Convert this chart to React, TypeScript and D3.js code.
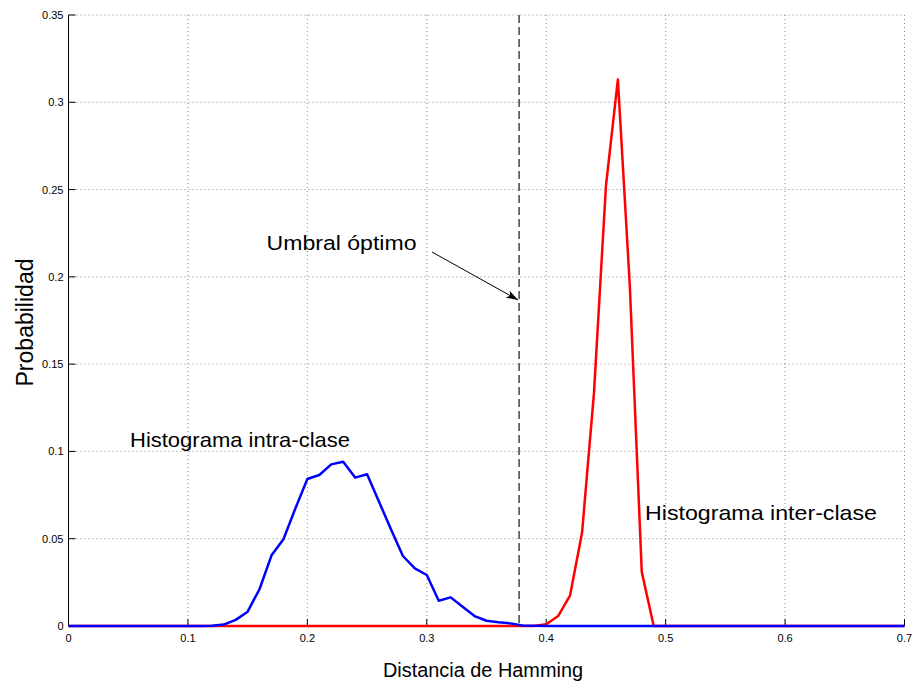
import React from "react";
import * as d3 from "d3";

const binCenters: number[] = d3.range(0, 71).map((i) => +(i * 0.01).toFixed(2));

const intraValues: number[] = [
  0, 0, 0, 0, 0, 0, 0, 0, 0, 0,
  0, 0, 0.0002, 0.0008, 0.0035, 0.0082, 0.0212, 0.0405, 0.0497, 0.0674,
  0.0842, 0.0865, 0.0926, 0.0941, 0.085, 0.0869, 0.0712, 0.0554, 0.0401, 0.033,
  0.0292, 0.0145, 0.0164, 0.011, 0.0057, 0.003, 0.0021, 0.0015, 0.0003, 0.0001,
  0, 0, 0, 0, 0, 0, 0, 0, 0, 0,
  0, 0, 0, 0, 0, 0, 0, 0, 0, 0,
  0, 0, 0, 0, 0, 0, 0, 0, 0, 0, 0,
];

const interValues: number[] = [
  0, 0, 0, 0, 0, 0, 0, 0, 0, 0,
  0, 0, 0, 0, 0, 0, 0, 0, 0, 0,
  0, 0, 0, 0, 0, 0, 0, 0, 0, 0,
  0, 0, 0, 0, 0, 0, 0, 0, 0, 0,
  0.001, 0.0057, 0.0176, 0.0534, 0.1335, 0.252, 0.313, 0.195, 0.031, 0,
  0, 0, 0, 0, 0, 0, 0, 0, 0, 0,
  0, 0, 0, 0, 0, 0, 0, 0, 0, 0, 0,
];

const xTicks: number[] = [0, 0.1, 0.2, 0.3, 0.4, 0.5, 0.6, 0.7];
const yTicks: number[] = [0, 0.05, 0.1, 0.15, 0.2, 0.25, 0.3, 0.35];
const threshold = 0.3773;

const W = 915;
const H = 684;
const M = { left: 68.5, right: 10.5, top: 15, bottom: 58 };

export default function App() {
  const x = d3.scaleLinear().domain([0, 0.7]).range([M.left, W - M.right]);
  const y = d3.scaleLinear().domain([0, 0.35]).range([H - M.bottom, M.top]);
  const line = d3
    .line<number>()
    .x((_, i) => x(binCenters[i]))
    .y((d) => y(d));
  const font = "'Liberation Sans', Arial, Helvetica, sans-serif";
  const x0 = x(0);
  const y0 = y(0);

  return (
    <svg
      width={W}
      height={H}
      style={{ position: "absolute", left: 0, top: 0, background: "#fff" }}
      fontFamily={font}
    >
      <defs>
        <marker
          id="arr"
          viewBox="0 0 12 8"
          refX="12"
          refY="4"
          markerWidth="12"
          markerHeight="8"
          markerUnits="userSpaceOnUse"
          orient="auto"
        >
          <path d="M0,0 L12,4 L0,8 L3,4 Z" fill="#000" />
        </marker>
      </defs>
      {/* grid */}
      {xTicks.slice(1).map((t) => (
        <line
          key={"gx" + t}
          x1={x(t)}
          x2={x(t)}
          y1={y(0.35)}
          y2={y0}
          stroke="#888"
          strokeWidth={1}
          strokeDasharray="1,3"
        />
      ))}
      {yTicks.slice(1).map((t) => (
        <line
          key={"gy" + t}
          x1={x0}
          x2={x(0.7)}
          y1={y(t)}
          y2={y(t)}
          stroke="#888"
          strokeWidth={1}
          strokeDasharray="1,3"
        />
      ))}
      {/* axes */}
      <line x1={x0} x2={x0} y1={y(0.35)} y2={y0} stroke="#000" strokeWidth={1} />
      <line x1={x0} x2={x(0.7)} y1={y0} y2={y0} stroke="#000" strokeWidth={1} />
      {xTicks.map((t) => (
        <g key={"xt" + t}>
          <line x1={x(t)} x2={x(t)} y1={y0} y2={y0 - 7} stroke="#000" />
          <text x={x(t)} y={y0 + 16} fontSize={11} textAnchor="middle" fill="#000">
            {t === 0 ? "0" : String(t)}
          </text>
        </g>
      ))}
      {yTicks.map((t) => (
        <g key={"yt" + t}>
          <line x1={x0} x2={x0 + 7} y1={y(t)} y2={y(t)} stroke="#000" />
          <text x={x0 - 5} y={y(t) + 4} fontSize={11} textAnchor="end" fill="#000">
            {t === 0 ? "0" : String(t)}
          </text>
        </g>
      ))}
      {/* threshold */}
      <line
        x1={x(threshold)}
        x2={x(threshold)}
        y1={y(0.35)}
        y2={y0}
        stroke="#444"
        strokeWidth={1.5}
        strokeDasharray="8,4"
      />
      {/* series */}
      <path d={line(interValues) || ""} fill="none" stroke="#ff0000" strokeWidth={2.5} strokeLinejoin="round" />
      <path d={line(intraValues) || ""} fill="none" stroke="#0000ff" strokeWidth={2.5} strokeLinejoin="round" />
      {/* annotations */}
      <text x={266.5} y={249.5} fontSize={20.5} fill="#000" textLength={150} lengthAdjust="spacingAndGlyphs">
        Umbral óptimo
      </text>
      <line
        x1={432}
        y1={252}
        x2={x(threshold) - 1}
        y2={300}
        stroke="#000"
        strokeWidth={1}
        markerEnd="url(#arr)"
      />
      <text x={130} y={446.5} fontSize={21} fill="#000" textLength={220} lengthAdjust="spacingAndGlyphs">
        Histograma intra-clase
      </text>
      <text x={645} y={520} fontSize={21} fill="#000" textLength={232} lengthAdjust="spacingAndGlyphs">
        Histograma inter-clase
      </text>
      {/* axis labels */}
      <text x={383} y={676.5} fontSize={20} fill="#000" textLength={200} lengthAdjust="spacingAndGlyphs">
        Distancia de Hamming
      </text>
      <text
        transform={`translate(33,386.5) rotate(-90)`}
        fontSize={23}
        fill="#000"
        textLength={128}
        lengthAdjust="spacingAndGlyphs"
      >
        Probabilidad
      </text>
    </svg>
  );
}
